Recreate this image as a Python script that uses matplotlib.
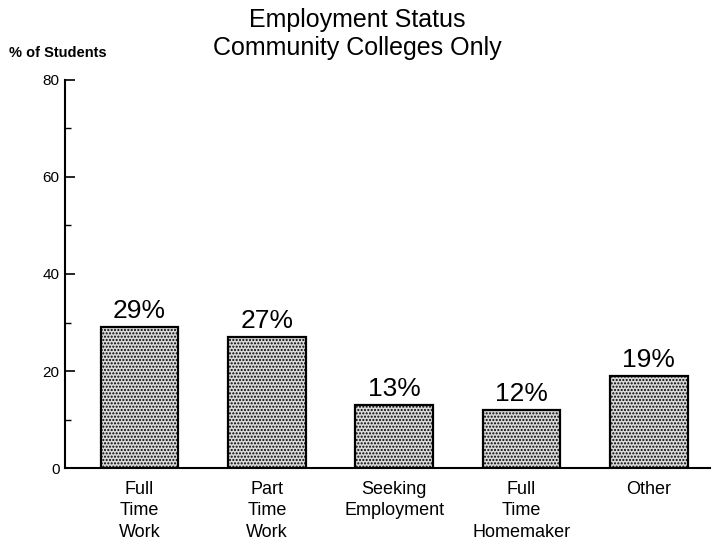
import matplotlib
matplotlib.use("Agg")
import matplotlib.pyplot as plt
from matplotlib.ticker import MultipleLocator

plt.rcParams['font.family'] = ['Liberation Sans', 'DejaVu Sans']
plt.rcParams['hatch.linewidth'] = 1.0

categories = ["Full\nTime\nWork", "Part\nTime\nWork", "Seeking\nEmployment",
              "Full\nTime\nHomemaker", "Other"]
values = [29, 27, 13, 12, 19]
value_labels = ["29%", "27%", "13%", "12%", "19%"]
y_ticks = [0, 20, 40, 60, 80]

fig = plt.figure(figsize=(7.13, 5.43), dpi=100)
ax = fig.add_axes([0.0912, 0.1381, 0.9046, 0.7146])

x = list(range(len(categories)))
bars = ax.bar(x, values, width=0.61, facecolor='#d9d9d9', edgecolor='black',
              linewidth=1.6, hatch='.....', zorder=2)

for xi, v, lab in zip(x, values, value_labels):
    ax.annotate(lab, (xi, v), xytext=(0, 3), textcoords='offset points',
                ha='center', va='bottom', fontsize=19)

ax.set_xlim(-0.585, 4.48)
ax.set_ylim(0, 80)
ax.set_yticks(y_ticks)
ax.yaxis.set_minor_locator(MultipleLocator(10))
ax.set_xticks(x)
ax.set_xticklabels(categories, fontsize=13, linespacing=1.35)
ax.tick_params(axis='y', direction='in', length=7, width=1.2, labelsize=11, pad=4)
ax.tick_params(axis='y', which='minor', direction='in', length=4, width=1.0)
ax.tick_params(axis='x', direction='in', length=6, width=1.2, pad=9)

for s in ['top', 'right']:
    ax.spines[s].set_visible(False)
for s in ['left', 'bottom']:
    ax.spines[s].set_linewidth(1.5)

fig.text(0.501, 0.937, "Employment Status\nCommunity Colleges Only", ha='center',
         va='center', fontsize=18, linespacing=1.2)
fig.text(0.013, 0.903, "% of Students", ha='left', va='center', fontsize=10.5,
         fontweight='bold')

fig.savefig("out.png", dpi=100)
